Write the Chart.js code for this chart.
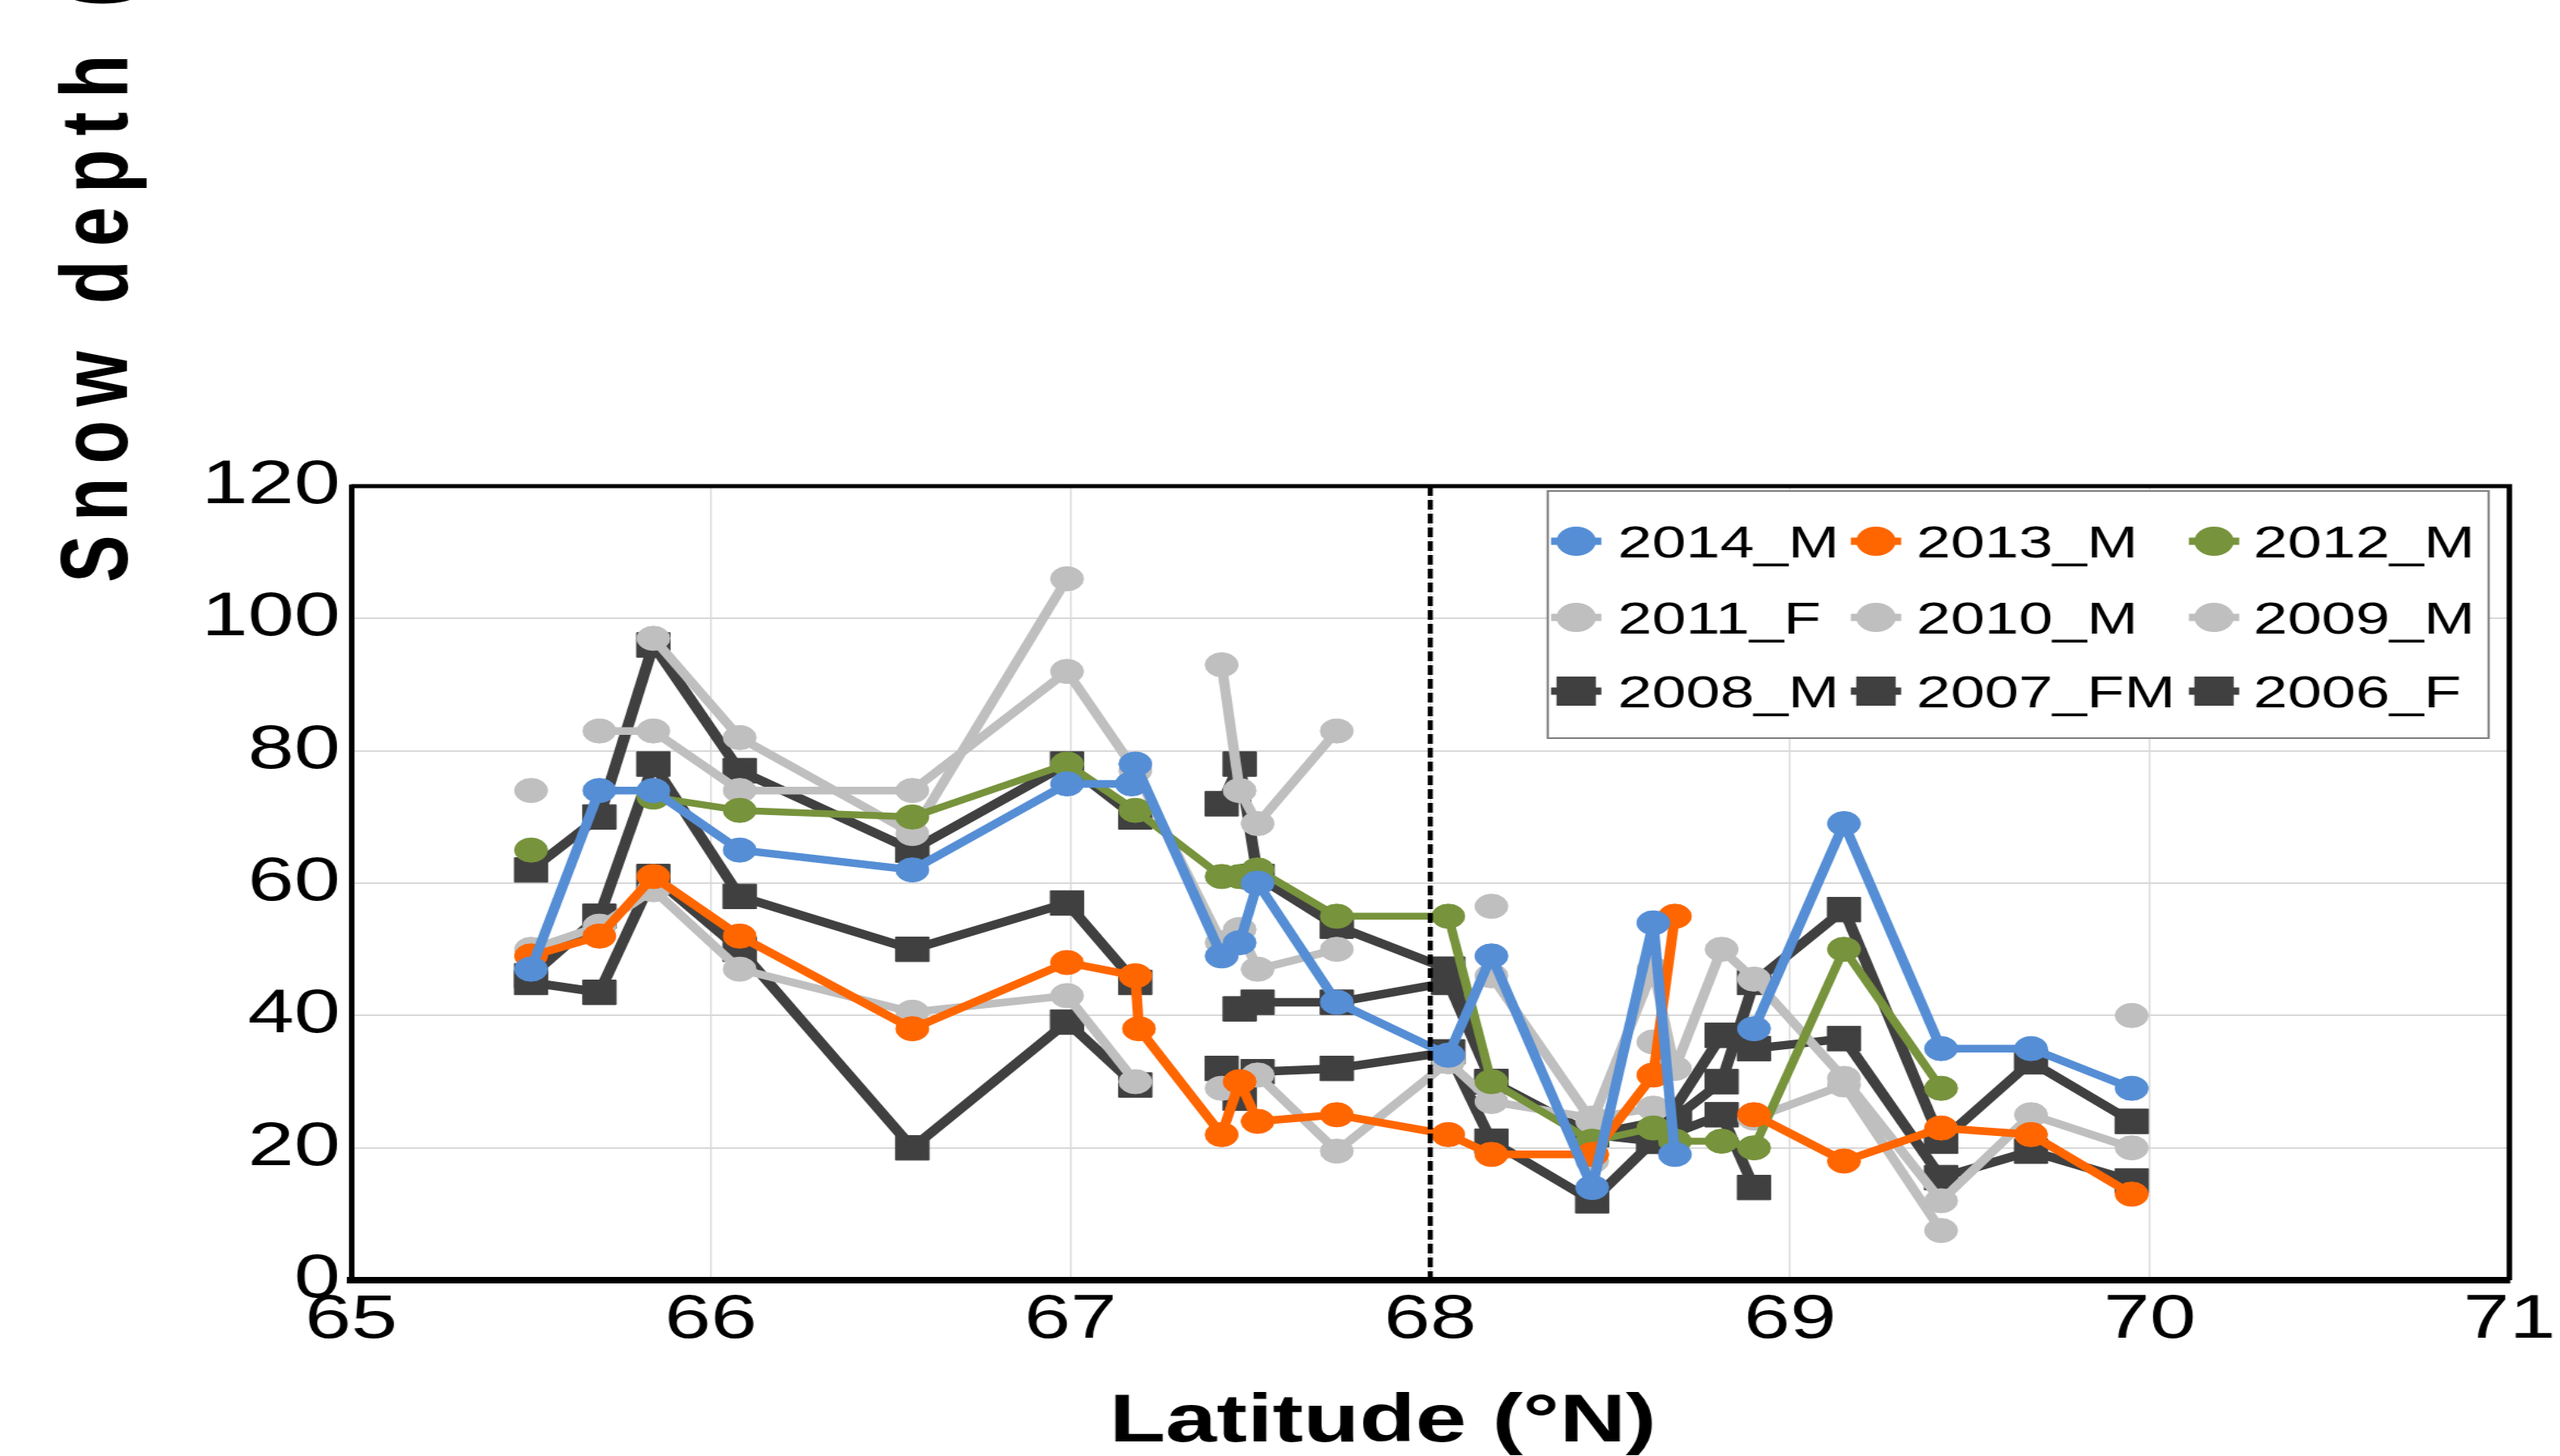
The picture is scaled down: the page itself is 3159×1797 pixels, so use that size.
<!DOCTYPE html>
<html>
<head>
<meta charset="utf-8">
<title>Snow depth vs latitude</title>
<script src="https://cdn.jsdelivr.net/npm/chart.js@4"></script>
<style>
  html, body { margin: 0; padding: 0; background: #fff; overflow: hidden; }
  /* the original figure is stretched sideways, so the whole chart is scaled on x */
  #wrap { width: 2340px; height: 1797px; transform: scaleX(1.35); transform-origin: 0 0; }
  canvas { display: block; }
</style>
</head>
<body>
<div id="wrap"><canvas id="snowChart" width="2340" height="1797"></canvas></div>
<script>
// series labels, in legend order
const seriesNames = ['2014_M', '2013_M', '2012_M', '2011_F', '2010_M', '2009_M', '2008_M', '2007_FM', '2006_F'];

// latitude (°N) and snow depth (cm) per campaign, null = break in the line
const lat2014 = [65.50, 65.69, 65.84, 66.08, 66.56, 66.99, 67.17, 67.18, 67.42, 67.47, 67.52, 67.74, 68.05, 68.17, 68.45, 68.62, 68.68, 68.80, 68.90, 69.15, 69.42, 69.67, 69.95];
const depth2014 = [47, 74, 74, 65, 62, 75, 75, 78, 49, 51, 60, 42, 34, 49, 14, 54, 19, null, 38, 69, 35, 35, 29];

const lat2013 = [65.50, 65.69, 65.84, 66.08, 66.56, 66.99, 67.18, 67.19, 67.42, 67.47, 67.52, 67.74, 68.05, 68.17, 68.45, 68.62, 68.68, 68.80, 68.90, 69.15, 69.42, 69.67, 69.95];
const depth2013 = [49, 52, 61, 52, 38, 48, 46, 38, 22, 30, 24, 25, 22, 19, 19, 31, 55, null, 25, 18, 23, 22, 13];

const lat2012 = [65.50, 65.69, 65.84, 66.08, 66.56, 66.99, 67.18, 67.42, 67.47, 67.52, 67.74, 68.05, 68.17, 68.45, 68.62, 68.68, 68.81, 68.90, 69.15, 69.42];
const depth2012 = [65, null, 73, 71, 70, 78, 71, 61, 61, 62, 55, 55, 30, 21, 23, 21, 21, 20, 50, 29];

const lat2011 = [65.69, 65.84, 66.08, 66.56, 66.99, 67.18, 67.42, 67.47, 67.52, 67.74, 68.00, 68.17, 68.45, 68.62, 68.68, 68.81, 68.90, 69.15, 69.42, 69.67, 69.95];
const depth2011 = [83, 83, 74, 74, 92, 77, 51, 53, 47, 50, null, 46, 24, 47, 32, 50, 45.5, 30.5, 12, 25, 20];

const lat2010 = [65.50, 65.69, 65.84, 66.08, 66.56, 66.99, 67.18, 67.42, 67.47, 67.52, 67.74, 68.00, 68.17, 68.30, 68.45, 68.55, 68.62, 68.75, 68.90, 69.15, 69.42, 69.67, 69.95];
const depth2010 = [74, null, 97, 82, 67.5, 106, null, 93, 74, 69, 83, null, 56.5, null, 18, null, 36, null, 24.5, 29.5, 7.5, null, 40];

const lat2009 = [65.50, 65.69, 65.84, 66.08, 66.56, 66.99, 67.18, 67.30, 67.42, 67.52, 67.74, 68.05, 68.17, 68.45, 68.62];
const depth2009 = [50, 53.5, 59, 47, 40.5, 43, 30, null, 29, 31, 19.5, 33, 27, 24.5, 26];

const lat2008 = [65.50, 65.69, 65.84, 66.08, 66.56, 66.99, 67.18, 67.30, 67.42, 67.47, 67.52, 67.74, 68.05, 68.17, 68.45, 68.68, 68.81, 68.90, 69.15, 69.42, 69.67, 69.95];
const depth2008 = [62, 70, 96, 77, 65, 78, 70, null, 72, 78, 61, 53.5, 47, 30, 22, 24.5, 30, 45, 56, 21, 33, 24];

const lat2007 = [65.50, 65.69, 65.84, 66.08, 66.56, 66.99, 67.18, 67.30, 67.47, 67.52, 67.74, 68.05, 68.17, 68.45, 68.62, 68.81, 68.90, 69.15, 69.42, 69.67, 69.95];
const depth2007 = [46, 55, 78, 58, 50, 57, 45, null, 41, 42, 42, 45, 30, 22, 21, 37, 35, 36.5, 15.5, 19.5, 15];

const lat2006 = [65.50, 65.69, 65.84, 66.08, 66.56, 66.99, 67.18, 67.30, 67.42, 67.47, 67.52, 67.74, 68.05, 68.17, 68.45, 68.62, 68.81, 68.90];
const depth2006 = [45, 43.5, 61, 50, 20, 39, 29.5, null, 32, 27.5, 31.5, 32, 34.5, 21, 12, 21, 25, 14];

// boundary between the two regions
const dividerLat = 68;

const BLUE = '#558ED5', ORANGE = '#FF6600', GREEN = '#77933C', GRAY = '#BFBFBF', DARK = '#404040';
const FONT = 'Liberation Sans, Arial, sans-serif';

function makeSeries(label, lats, depths, color, square, width) {
  return {
    label: label,
    data: lats.map((x, i) => ({ x: x, y: depths[i] })),
    borderColor: color,
    backgroundColor: color,
    borderWidth: width,
    borderJoinStyle: 'round',
    borderCapStyle: 'round',
    pointStyle: square ? 'rect' : 'circle',
    pointRadius: square ? 21.5 : 15,
    pointBorderWidth: 1,
    pointBorderColor: color,
    pointBackgroundColor: color,
    tension: 0,
    spanGaps: false
  };
}

const datasets = [
  makeSeries(seriesNames[0], lat2014, depth2014, BLUE, false, 9.5),
  makeSeries(seriesNames[1], lat2013, depth2013, ORANGE, false, 9.5),
  makeSeries(seriesNames[2], lat2012, depth2012, GREEN, false, 8.5),
  makeSeries(seriesNames[3], lat2011, depth2011, GRAY, false, 9.5),
  makeSeries(seriesNames[4], lat2010, depth2010, GRAY, false, 9.5),
  makeSeries(seriesNames[5], lat2009, depth2009, GRAY, false, 9.5),
  makeSeries(seriesNames[6], lat2008, depth2008, DARK, true, 10.5),
  makeSeries(seriesNames[7], lat2007, depth2007, DARK, true, 10.5),
  makeSeries(seriesNames[8], lat2006, depth2006, DARK, true, 10.5)
];

// dashed divider and the top/right frame
const framePlugin = {
  id: 'frame',
  afterDatasetsDraw(chart) {
    const { ctx, chartArea: a, scales } = chart;
    const px = scales.x.getPixelForValue(dividerLat);
    ctx.save();
    ctx.strokeStyle = '#000';
    ctx.lineWidth = 4.5;
    ctx.setLineDash([12, 5]);
    ctx.beginPath();
    ctx.moveTo(px, a.top);
    ctx.lineTo(px, a.bottom + 6);
    ctx.stroke();
    ctx.setLineDash([]);
    ctx.lineWidth = 5;
    ctx.beginPath();
    ctx.moveTo(a.left, a.top);
    ctx.lineTo(a.right, a.top);
    ctx.lineTo(a.right, a.bottom);
    ctx.stroke();
    ctx.restore();
  }
};

// boxed 3x3 legend in the upper right of the plot
const legendPlugin = {
  id: 'boxLegend',
  afterDraw(chart) {
    const { ctx, chartArea: a } = chart;
    const right = a.right - 19, left = right - 860, top = a.top + 6, h = 305;
    const markX = [26, 300, 609], textX = [64, 337, 645], rowY = [62, 156, 247];
    ctx.save();
    ctx.fillStyle = '#fff';
    ctx.fillRect(left, top, right - left, h);
    ctx.strokeStyle = '#7f7f7f';
    ctx.lineWidth = 2;
    ctx.strokeRect(left, top, right - left, h);
    ctx.font = '56px ' + FONT;
    ctx.textBaseline = 'alphabetic';
    ctx.textAlign = 'left';
    chart.data.datasets.forEach((ds, i) => {
      const col = i % 3, row = Math.floor(i / 3);
      const cx = left + markX[col], cy = top + rowY[row];
      ctx.strokeStyle = ds.borderColor;
      ctx.fillStyle = ds.borderColor;
      ctx.lineWidth = 9;
      ctx.beginPath();
      ctx.moveTo(cx - 23, cy);
      ctx.lineTo(cx + 23, cy);
      ctx.stroke();
      if (ds.pointStyle === 'rect') {
        ctx.fillRect(cx - 18, cy - 18, 36, 36);
      } else {
        ctx.beginPath();
        ctx.arc(cx, cy, 18, 0, Math.PI * 2);
        ctx.fill();
      }
      ctx.fillStyle = '#000';
      ctx.fillText(ds.label, left + textX[col], cy + 20);
    });
    ctx.restore();
  }
};

// axis titles (the y title runs off the top of the figure, as in the original)
const titlePlugin = {
  id: 'axisTitles',
  afterDraw(chart) {
    const ctx = chart.ctx;
    ctx.save();
    ctx.fillStyle = '#000';
    ctx.font = 'bold 84px ' + FONT;
    ctx.textAlign = 'center';
    ctx.textBaseline = 'alphabetic';
    ctx.fillText('Latitude (°N)', 1264, 1779);

    ctx.translate(116, 719);
    ctx.rotate(-Math.PI / 2);
    ctx.font = 'bold 88px ' + FONT;
    ctx.textAlign = 'left';
    let cursor = 0;
    for (const ch of 'Snow depth (cm)') {
      ctx.fillText(ch, cursor, 0);
      cursor += ctx.measureText(ch).width + 17;
    }
    ctx.restore();
  }
};

Chart.defaults.font.family = FONT;
Chart.defaults.color = '#000';

new Chart(document.getElementById('snowChart').getContext('2d'), {
  type: 'line',
  data: { datasets: datasets },
  options: {
    responsive: false,
    animation: false,
    events: [],
    layout: { padding: { top: 600, right: 42, left: 0, bottom: 0 } },
    plugins: { legend: { display: false }, tooltip: { enabled: false } },
    scales: {
      x: {
        type: 'linear',
        min: 65,
        max: 71,
        ticks: { stepSize: 1, font: { size: 76 }, color: '#000', padding: 4 },
        grid: { color: '#d9d9d9', lineWidth: 1.5, drawTicks: false },
        border: { color: '#000', width: 8 },
        afterFit(scale) { scale.height = 217; }
      },
      y: {
        min: 0,
        max: 120,
        ticks: { stepSize: 20, font: { size: 76 }, color: '#000', padding: 10 },
        grid: { color: '#d9d9d9', lineWidth: 2, drawTicks: false },
        border: { color: '#000', width: 5 },
        afterFit(scale) { scale.width = 321; }
      }
    }
  },
  plugins: [framePlugin, legendPlugin, titlePlugin]
});
</script>
</body>
</html>
